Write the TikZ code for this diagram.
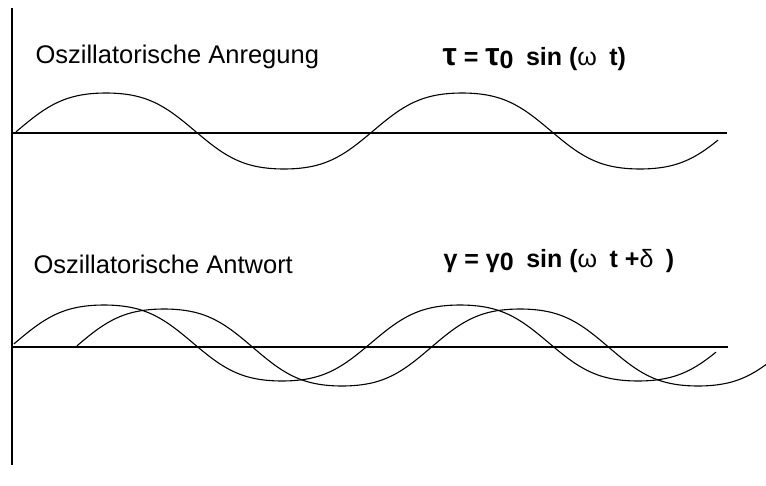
\documentclass[tikz,border=0pt]{standalone}
\usepackage{fontspec}
\setmainfont{Liberation Sans}
\begin{document}
\begin{tikzpicture}[x=1pt,y=-1pt,line width=1.1pt,
  lbl/.style={anchor=base west,inner sep=0pt,font=\fontsize{25.5}{30}\selectfont},
  frm/.style={anchor=base west,inner sep=0pt,font=\fontsize{25}{30}\selectfont\bfseries},
  wave/.style={smooth,samples=160},
  declare function={rsin(\a)=(sin(\a)+0.06*sin(3*\a))/0.94;}]
\useasboundingbox (0,0) rectangle (766,485);
% axes
\draw (12,8) -- (12,465);
\draw (12,133) -- (727,133);
\draw (12,347) -- (728,347);
% excitation
\node[lbl] (anr) at (35,63) {Oszillatorische Anregung};
\node[frm] (tau) at (442,65) {{\fontsize{32}{32}\selectfont τ} = {\fontsize{32}{32}\selectfont τ}\raisebox{-0.3ex}{0}\enspace sin (\textmd{ω}\enspace t)};
\draw[wave] plot[domain=16:718] (\x,{131-38*rsin((\x-17)/356*360)});
% response
\node[lbl] (ant) at (33,273) {Oszillatorische Antwort};
\node[frm] (gam) at (443,267) {γ = γ\raisebox{-0.3ex}{0}\enspace sin (\textmd{ω}\enspace t +\textmd{δ}\enspace)};
\draw[wave] plot[domain=14:716] (\x,{343-38*rsin((\x-15)/356*360)});
\draw[wave] plot[domain=77:766] (\x,{347.5-38.5*rsin((\x-75)/356*360)});
\end{tikzpicture}
\end{document}
